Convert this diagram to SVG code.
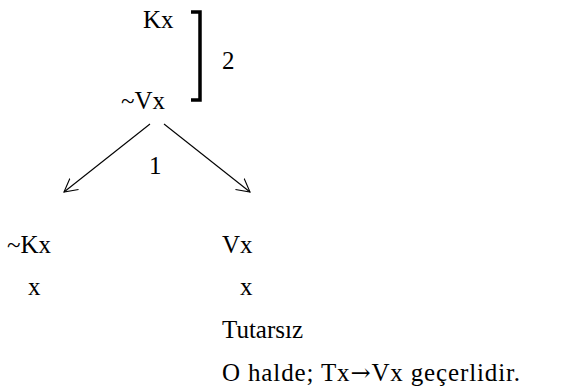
<svg xmlns="http://www.w3.org/2000/svg" width="581" height="386" viewBox="0 0 581 386">
<style>
text{font-family:"Liberation Serif","Times New Roman",serif;font-size:25px;fill:#000}
.ar{font-family:"DejaVu Serif",serif;font-size:24px}
.c{stroke:#000;stroke-width:1.1;fill:none}
.b{stroke:#000;stroke-width:3.5;fill:none}
</style>
<defs>
<marker id="ah" markerWidth="16" markerHeight="16" refX="13" refY="8" orient="auto" markerUnits="userSpaceOnUse">
<path d="M0,1 L13,8 L0,15" stroke="#000" stroke-width="1.1" fill="none"/>
</marker>
</defs>
<rect width="581" height="386" fill="#fff"/>
<g id="kx"><text x="143" y="28">Kx</text></g>
<g id="bracket"><path class="b" d="M191,12 H200 V100 H191"/><text x="222" y="69">2</text></g>
<g id="nvx"><text x="121" y="109">~Vx</text></g>
<g id="connectors">
<line class="c" x1="150" y1="124" x2="64" y2="192" marker-end="url(#ah)"/>
<line class="c" x1="164" y1="124" x2="250" y2="192" marker-end="url(#ah)"/>
<text x="149" y="174">1</text>
</g>
<g id="left"><text x="7" y="253">~Kx</text><text x="28" y="295">x</text></g>
<g id="right"><text x="222" y="253">Vx</text><text x="240" y="295">x</text><text x="222" y="338">Tutarsız</text><text x="222" y="381" textLength="298" lengthAdjust="spacing">O halde; Tx<tspan class="ar">→</tspan>Vx geçerlidir.</text></g>
</svg>
